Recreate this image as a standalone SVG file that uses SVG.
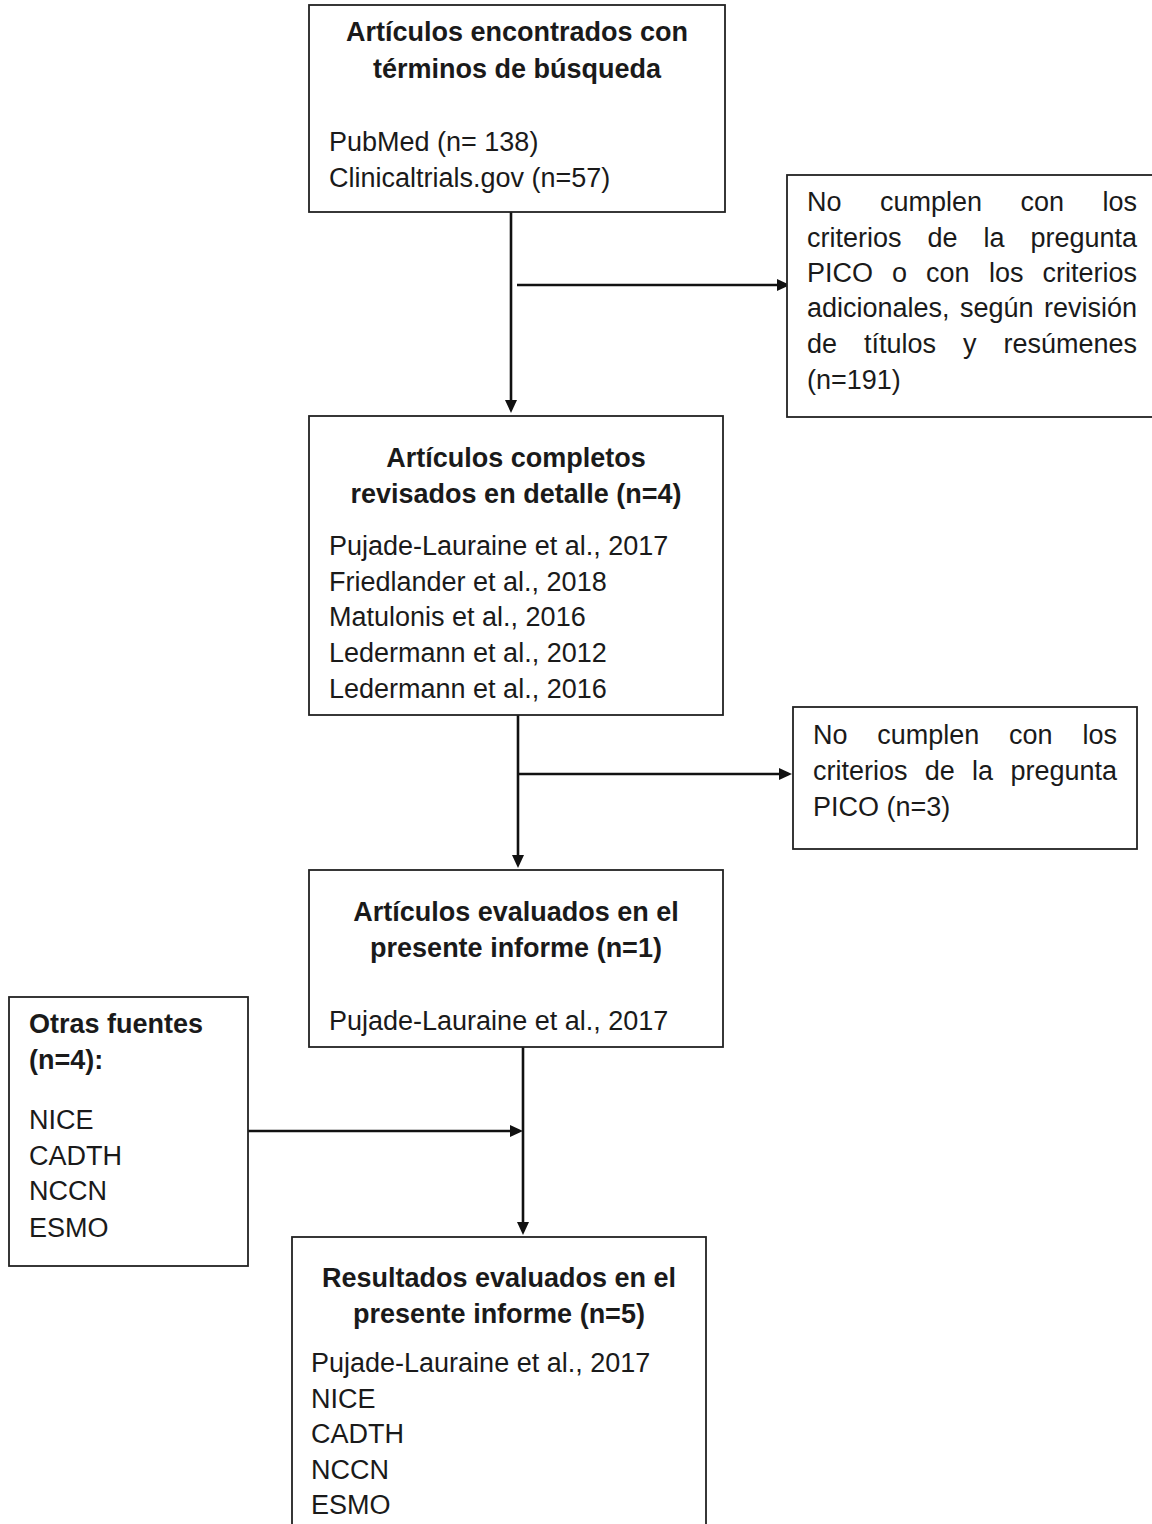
<svg xmlns="http://www.w3.org/2000/svg" width="1152" height="1524" viewBox="0 0 1152 1524">
<defs>
<style>
.box{fill:#fff;stroke:#222;stroke-width:1.8}
.t{font-family:"Liberation Sans",Arial,sans-serif;font-size:27px;fill:#1a1a1a}
.b{font-weight:bold}
.c{text-anchor:middle}
.e{text-anchor:end}
.cn{stroke:#111;stroke-width:2.6;fill:none}
</style>
<marker id="ah" viewBox="0 0 13 12" refX="7" refY="6" markerWidth="13" markerHeight="12" markerUnits="userSpaceOnUse" orient="auto">
<path d="M0,0 L13,6 L0,12 z" fill="#111"/>
</marker>
</defs>
<rect width="1152" height="1524" fill="#fff"/>

<g id="connectors">
<line class="cn" x1="511" y1="212" x2="511" y2="407" marker-end="url(#ah)"/>
<line class="cn" x1="517" y1="285" x2="784" y2="285" marker-end="url(#ah)"/>
<line class="cn" x1="518" y1="715" x2="518" y2="862" marker-end="url(#ah)"/>
<line class="cn" x1="518" y1="774" x2="786" y2="774" marker-end="url(#ah)"/>
<line class="cn" x1="523" y1="1047" x2="523" y2="1229" marker-end="url(#ah)"/>
<line class="cn" x1="248" y1="1131" x2="517" y2="1131" marker-end="url(#ah)"/>
</g>

<g id="n1">
<rect class="box" x="309" y="5" width="416" height="207"/>
<text class="t b c" x="517" y="41">Artículos encontrados con</text>
<text class="t b c" x="517" y="78">términos de búsqueda</text>
<text class="t" x="329" y="151">PubMed (n= 138)</text>
<text class="t" x="329" y="187">Clinicaltrials.gov (n=57)</text>
</g>

<g id="n2">
<rect class="box" x="787" y="175" width="370" height="242"/>
<text class="t" x="807" y="211">No</text>
<text class="t" x="880" y="211">cumplen</text>
<text class="t" x="1020.5" y="211">con</text>
<text class="t e" x="1137" y="211">los</text>
<text class="t" x="807" y="247">criterios</text>
<text class="t" x="927.5" y="247">de</text>
<text class="t" x="983.5" y="247">la</text>
<text class="t e" x="1137" y="247">pregunta</text>
<text class="t" x="807" y="282">PICO</text>
<text class="t" x="892" y="282">o</text>
<text class="t" x="926" y="282">con</text>
<text class="t" x="989" y="282">los</text>
<text class="t e" x="1137" y="282">criterios</text>
<text class="t" x="807" y="317">adicionales,</text>
<text class="t" x="960" y="317">según</text>
<text class="t e" x="1137" y="317">revisión</text>
<text class="t" x="807" y="353">de</text>
<text class="t" x="864" y="353">títulos</text>
<text class="t" x="963" y="353">y</text>
<text class="t e" x="1137" y="353">resúmenes</text>
<text class="t" x="807" y="389">(n=191)</text>
</g>

<g id="n3">
<rect class="box" x="309" y="416" width="414" height="299"/>
<text class="t b c" x="516" y="467">Artículos completos</text>
<text class="t b c" x="516" y="503">revisados en detalle (n=4)</text>
<text class="t" x="329" y="555">Pujade-Lauraine et al., 2017</text>
<text class="t" x="329" y="591">Friedlander et al., 2018</text>
<text class="t" x="329" y="626">Matulonis et al., 2016</text>
<text class="t" x="329" y="662">Ledermann et al., 2012</text>
<text class="t" x="329" y="698">Ledermann et al., 2016</text>
</g>

<g id="n4">
<rect class="box" x="793" y="707" width="344" height="142"/>
<text class="t" x="813" y="744">No</text>
<text class="t" x="877.3" y="744">cumplen</text>
<text class="t" x="1009.1" y="744">con</text>
<text class="t e" x="1117" y="744">los</text>
<text class="t" x="813" y="780">criterios</text>
<text class="t" x="924.8" y="780">de</text>
<text class="t" x="972.1" y="780">la</text>
<text class="t e" x="1117" y="780">pregunta</text>
<text class="t" x="813" y="816">PICO (n=3)</text>
</g>

<g id="n5">
<rect class="box" x="309" y="870" width="414" height="177"/>
<text class="t b c" x="516" y="921">Artículos evaluados en el</text>
<text class="t b c" x="516" y="957">presente informe (n=1)</text>
<text class="t" x="329" y="1030">Pujade-Lauraine et al., 2017</text>
</g>

<g id="n6">
<rect class="box" x="9" y="997" width="239" height="269"/>
<text class="t b" x="29" y="1033">Otras fuentes</text>
<text class="t b" x="29" y="1069">(n=4):</text>
<text class="t" x="29" y="1129">NICE</text>
<text class="t" x="29" y="1165">CADTH</text>
<text class="t" x="29" y="1200">NCCN</text>
<text class="t" x="29" y="1237">ESMO</text>
</g>

<g id="n7">
<rect class="box" x="292" y="1237" width="414" height="300"/>
<text class="t b c" x="499" y="1287">Resultados evaluados en el</text>
<text class="t b c" x="499" y="1323">presente informe (n=5)</text>
<text class="t" x="311" y="1372">Pujade-Lauraine et al., 2017</text>
<text class="t" x="311" y="1408">NICE</text>
<text class="t" x="311" y="1443">CADTH</text>
<text class="t" x="311" y="1479">NCCN</text>
<text class="t" x="311" y="1514">ESMO</text>
</g>
</svg>
